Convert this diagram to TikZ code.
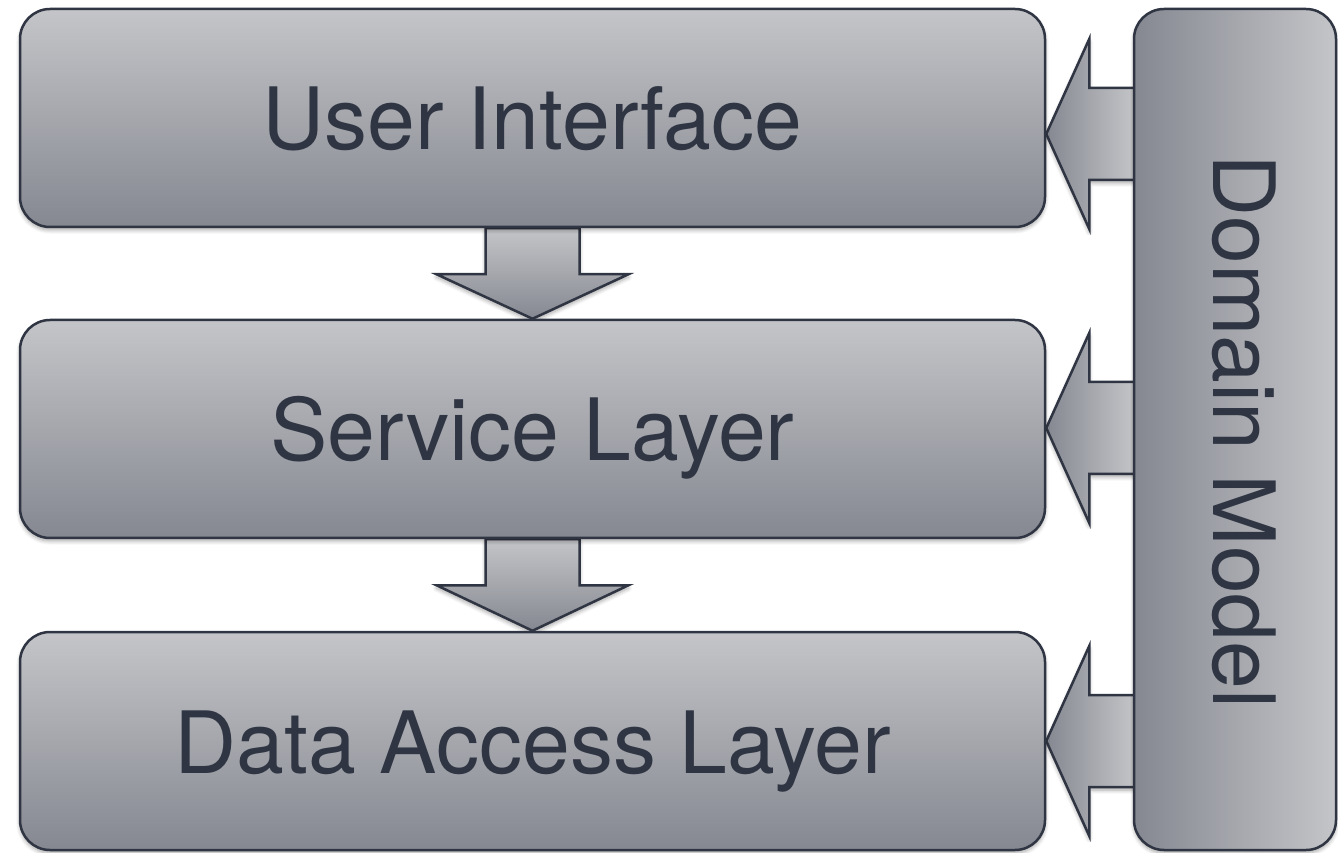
\documentclass[tikz,border=0pt]{standalone}
\usepackage{fontspec}
\setmainfont{TeX Gyre Heros}
\usetikzlibrary{calc,shadows.blur}
\definecolor{edgecol}{HTML}{2F3542}
\definecolor{lightcol}{HTML}{C4C5C8}
\definecolor{darkcol}{HTML}{858891}
\pgfdeclarelayer{bg}
\pgfsetlayers{bg,main}
\begin{document}
\begin{tikzpicture}[x=1pt,y=1pt,
  softshadow/.style={blur shadow={shadow blur steps=6, shadow xshift=0pt, shadow yshift=-3pt, shadow blur radius=4pt, shadow opacity=35}},
  layerbox/.style={draw=edgecol, line width=2.5pt, rounded corners=30pt,
    top color=lightcol, bottom color=darkcol, minimum width=1025pt, minimum height=218pt,
    inner sep=0pt, text=edgecol, font=\fontsize{86}{90}\selectfont,
    text height=64pt, text depth=0pt, softshadow},
  domainbox/.style={draw=edgecol, line width=2.5pt, rounded corners=30pt,
    left color=darkcol, right color=lightcol, minimum width=202pt, minimum height=841pt,
    inner sep=0pt, softshadow},
  downarrow/.style={draw=edgecol, line width=2.5pt, line join=miter,
    top color=lightcol, bottom color=darkcol, softshadow},
  sidearrow/.style={draw=edgecol, line width=2.5pt, line join=miter,
    left color=darkcol, right color=lightcol, softshadow}]
\useasboundingbox (0,0) rectangle (1338,852);

% layer boxes
\node[layerbox] (ui)  at (532.5,734) {User Interface};
\node[layerbox] (svc) at (532.5,423) {Service Layer};
\node[layerbox] (dal) at (532.5,111) {Data Access Layer};

% domain model
\node[domainbox] (dom) at (1235,422.5) {};
\node[rotate=-90, anchor=base, text=edgecol, font=\fontsize{86}{90}\selectfont, inner sep=0pt] (domtext) at (1213,420.5) {Domain Model};

\begin{pgfonlayer}{bg}
% downward arrows
\foreach \a/\b in {ui/svc, svc/dal}{
  \path[downarrow] ($(\a.south)+(-47,0)$) -- ($(\a.south)+(-47,-46)$) -- ($(\a.south)+(-96,-46)$)
    -- (\b.north) -- ($(\a.south)+(96,-46)$) -- ($(\a.south)+(47,-46)$) -- ($(\a.south)+(47,0)$) -- cycle;
}
% arrows from the domain model
\foreach \t/\d in {ui/-16, svc/1, dal/0}{
  \path[sidearrow] ($(\t.east)+(0,\d)$) -- ($(\t.east)+(43,\d+95)$) -- ($(\t.east)+(43,\d+46)$)
    -- ($(\t.east)+(89,\d+46)$) -- ($(\t.east)+(89,\d-46)$) -- ($(\t.east)+(43,\d-46)$)
    -- ($(\t.east)+(43,\d-95)$) -- cycle;
}
\end{pgfonlayer}
\end{tikzpicture}
\end{document}
